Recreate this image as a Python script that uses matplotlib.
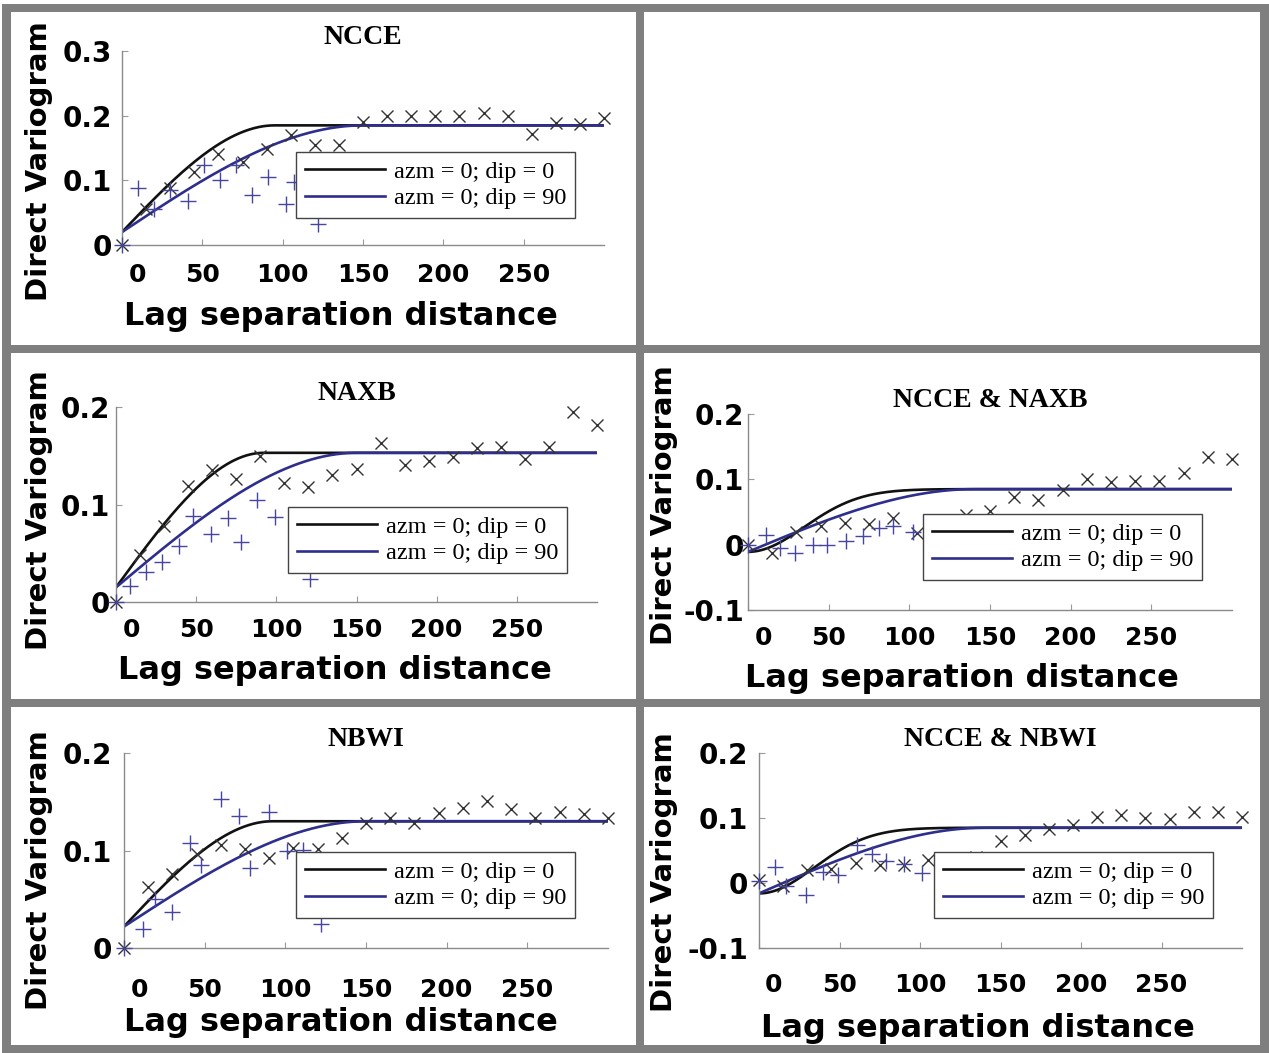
import numpy as np
import matplotlib.pyplot as plt
from matplotlib.patches import Rectangle
from matplotlib.transforms import ScaledTranslation

W, H, DPI = 1269, 1053, 100

# experimental lags along azm=0; dip=0 (regular 15 m classes)
lags_dip0 = [0, 15, 30, 45, 60, 75, 90, 105, 120, 135, 150,
             165, 180, 195, 210, 225, 240, 255, 270, 285, 300]

# NCCE
ncce_dip0 = [0.0, 0.055, 0.088, 0.113, 0.141, 0.129, 0.148, 0.170, 0.154, 0.154, 0.190,
             0.199, 0.200, 0.200, 0.199, 0.204, 0.200, 0.172, 0.189, 0.187, 0.196]
ncce_lags90 = [0, 10, 20, 30, 41, 51, 61, 71, 81, 91, 102, 107, 122]
ncce_dip90 = [0.0, 0.088, 0.056, 0.085, 0.068, 0.123, 0.100, 0.124, 0.078, 0.105, 0.063, 0.098, 0.032]

# NAXB
naxb_dip0 = [0.0, 0.048, 0.078, 0.119, 0.135, 0.126, 0.150, 0.122, 0.118, 0.130, 0.136,
             0.163, 0.140, 0.145, 0.149, 0.158, 0.159, 0.147, 0.159, 0.195, 0.182]
naxb_lags90 = [0, 9, 19, 29, 39, 48, 59, 70, 78, 88, 99, 121]
naxb_dip90 = [0.0, 0.016, 0.031, 0.041, 0.057, 0.088, 0.070, 0.086, 0.062, 0.105, 0.087, 0.024]

# NCCE & NAXB (cross)
ncce_naxb_dip0 = [0.0, -0.012, 0.020, 0.028, 0.033, 0.031, 0.041, 0.018, 0.030, 0.046, 0.052,
                  0.073, 0.069, 0.083, 0.100, 0.096, 0.098, 0.098, 0.110, 0.134, 0.131]
ncce_naxb_lags90 = [0, 11, 20, 29, 40, 49, 61, 71, 81, 90, 102]
ncce_naxb_dip90 = [0.0, 0.015, -0.005, -0.013, 0.0, 0.0, 0.005, 0.013, 0.026, 0.028, 0.019]

# NBWI
nbwi_dip0 = [0.0, 0.063, 0.076, 0.096, 0.106, 0.102, 0.092, 0.103, 0.102, 0.113, 0.128,
             0.133, 0.128, 0.138, 0.144, 0.151, 0.143, 0.133, 0.140, 0.137, 0.133]
nbwi_lags90 = [0, 12, 19, 30, 41, 48, 60, 71, 78, 90, 101, 111, 122]
nbwi_dip90 = [0.0, 0.020, 0.050, 0.037, 0.108, 0.085, 0.153, 0.135, 0.082, 0.140, 0.100, 0.101, 0.025]

# NCCE & NBWI (cross)
ncce_nbwi_dip0 = [0.005, -0.004, 0.020, 0.022, 0.031, 0.027, 0.028, 0.036, 0.030, 0.040, 0.064,
                  0.074, 0.083, 0.090, 0.102, 0.105, 0.100, 0.098, 0.109, 0.110, 0.102]
ncce_nbwi_lags90 = [0, 10, 17, 29, 40, 49, 61, 70, 79, 90, 101]
ncce_nbwi_dip90 = [0.003, 0.025, -0.005, -0.018, 0.017, 0.012, 0.058, 0.044, 0.034, 0.029, 0.015]

# fitted models: (type, nugget, total sill, range)
ncce_models = [("sph", 0.020, 0.185, 95), ("sph", 0.020, 0.185, 150)]
naxb_models = [("sph", 0.015, 0.153, 92), ("sph", 0.015, 0.153, 150)]
ncce_naxb_models = [("gau", -0.011, 0.085, 85), ("sph", -0.011, 0.085, 140)]
nbwi_models = [("sph", 0.022, 0.130, 92), ("sph", 0.022, 0.130, 150)]
ncce_nbwi_models = [("gau", -0.016, 0.085, 84), ("sph", -0.016, 0.085, 140)]

titles = ["NCCE", "NAXB", "NCCE & NAXB", "NBWI", "NCCE & NBWI"]
legend_labels = ["azm = 0; dip = 0", "azm = 0; dip = 90"]


def model_curve(h, kind, nugget, sill, rng):
    r = np.minimum(h / rng, 1.0)
    if kind == "sph":
        s = 1.5 * r - 0.5 * r ** 3
    else:
        s = 1.0 - np.exp(-3.0 * (h / rng) ** 2)
    return nugget + (sill - nugget) * s


fig = plt.figure(figsize=(W / DPI, H / DPI), dpi=DPI)
fig.patch.set_facecolor("white")


def fbox(l, t, r, b):
    return [l / W, 1 - b / H, (r - l) / W, (b - t) / H]


def fpt(x, y):
    return x / W, 1 - y / H


# gray frame around the panel grid
gray = "#7f7f7f"
for l, t, r, b in [(2, 4, 11, 1053), (1260, 4, 1269, 1053), (636, 4, 644, 1053),
                   (2, 4, 1269, 12), (2, 345, 1269, 353), (2, 699, 1269, 707),
                   (2, 1045, 1269, 1053)]:
    fig.add_artist(Rectangle((l / W, 1 - b / H), (r - l) / W, (b - t) / H,
                             transform=fig.transFigure, facecolor=gray,
                             edgecolor="none", zorder=0))

panels = [
    dict(title=titles[0], dip0=ncce_dip0, lags90=ncce_lags90, dip90=ncce_dip90,
         models=ncce_models, ylim=(0, 0.3), yticks=[0, 0.1, 0.2, 0.3],
         ylabels=["0", "0.1", "0.2", "0.3"],
         box=(122, 51, 604, 245), legend=(296, 152), xlab=(341, 317), ylab=(39, 161),
         xpad=13, ypad=7),
    dict(title=titles[1], dip0=naxb_dip0, lags90=naxb_lags90, dip90=naxb_dip90,
         models=naxb_models, ylim=(0, 0.2), yticks=[0, 0.1, 0.2],
         ylabels=["0", "0.1", "0.2"],
         box=(116, 407, 597, 602), legend=(288, 507), xlab=(335, 670), ylab=(39, 510),
         xpad=11.5, ypad=4.5),
    dict(title=titles[2], dip0=ncce_naxb_dip0, lags90=ncce_naxb_lags90, dip90=ncce_naxb_dip90,
         models=ncce_naxb_models, ylim=(-0.1, 0.2), yticks=[-0.1, 0, 0.1, 0.2],
         ylabels=["-0.1", "0", "0.1", "0.2"],
         box=(748, 414, 1232, 610), legend=(923, 514), xlab=(962, 678), ylab=(664, 505),
         xpad=11.5, ypad=3),
    dict(title=titles[3], dip0=nbwi_dip0, lags90=nbwi_lags90, dip90=nbwi_dip90,
         models=nbwi_models, ylim=(0, 0.2), yticks=[0, 0.1, 0.2],
         ylabels=["0", "0.1", "0.2"],
         box=(124, 753, 608, 948), legend=(296, 852), xlab=(341, 1022), ylab=(39, 870),
         xpad=21.5, ypad=8.5),
    dict(title=titles[4], dip0=ncce_nbwi_dip0, lags90=ncce_nbwi_lags90, dip90=ncce_nbwi_dip90,
         models=ncce_nbwi_models, ylim=(-0.1, 0.2), yticks=[-0.1, 0, 0.1, 0.2],
         ylabels=["-0.1", "0", "0.1", "0.2"],
         box=(759, 753, 1242, 948), legend=(934, 852), xlab=(978, 1028), ylab=(664, 872),
         xpad=18, ypad=8),
]

xticks = [0, 50, 100, 150, 200, 250]
line_colors = ["#111111", "#2e2e8c"]
h = np.linspace(0, 300, 601)

for p in panels:
    ax = fig.add_axes(fbox(*p["box"]))
    for (kind, c0, sill, rng), col, lab in zip(p["models"], line_colors, legend_labels):
        ax.plot(h, model_curve(h, kind, c0, sill, rng), color=col, lw=1.9,
                label=lab, zorder=2)
    ax.plot(lags_dip0, p["dip0"], ls="none", marker="x", ms=9, mew=1.0,
            color="#333333", clip_on=False, zorder=3)
    ax.plot(p["lags90"], p["dip90"], ls="none", marker="+", ms=12, mew=1.0,
            color="#4646a0", clip_on=False, zorder=3)

    ax.set_xlim(0, 300)
    ax.set_ylim(*p["ylim"])
    for s in ["top", "right"]:
        ax.spines[s].set_visible(False)
    for s in ["left", "bottom"]:
        ax.spines[s].set_color("#8a8a8a")
        ax.spines[s].set_linewidth(1.0)

    ax.set_xticks(xticks)
    ax.set_xticklabels([str(v) for v in xticks], fontsize=18, fontweight="bold")
    ax.set_yticks(p["yticks"])
    ax.set_yticklabels(p["ylabels"], fontsize=20, fontweight="bold")
    ax.tick_params(axis="both", direction="in", length=4, width=0.8, color="#9a9a9a")
    ax.tick_params(axis="x", pad=p["xpad"])
    ax.tick_params(axis="y", pad=p["ypad"])
    first = ax.get_xticklabels()[0]
    first.set_transform(first.get_transform() +
                        ScaledTranslation(15 / DPI, 0, fig.dpi_scale_trans))

    ax.set_title(p["title"], fontsize=20, fontweight="bold",
                 family="Liberation Serif", pad=5)
    ax.set_xlabel("Lag separation distance", fontsize=23, fontweight="bold", va="center")
    ax.xaxis.set_label_coords(*fpt(*p["xlab"]), transform=fig.transFigure)
    ax.set_ylabel("Direct Variogram", fontsize=21, fontweight="bold", va="center")
    ax.yaxis.set_label_coords(*fpt(*p["ylab"]), transform=fig.transFigure)

    leg = ax.legend(loc="upper left", bbox_to_anchor=fpt(*p["legend"]),
                    bbox_transform=fig.transFigure, borderaxespad=0,
                    prop={"family": "Liberation Serif", "size": 17.5},
                    handlelength=3.3, handletextpad=0.4, borderpad=0.35,
                    labelspacing=0.2, fancybox=False, framealpha=1,
                    edgecolor="#444444")
    leg.get_frame().set_linewidth(1.0)
    leg.set_zorder(5)

fig.savefig("out.png", dpi=DPI, facecolor="white")
